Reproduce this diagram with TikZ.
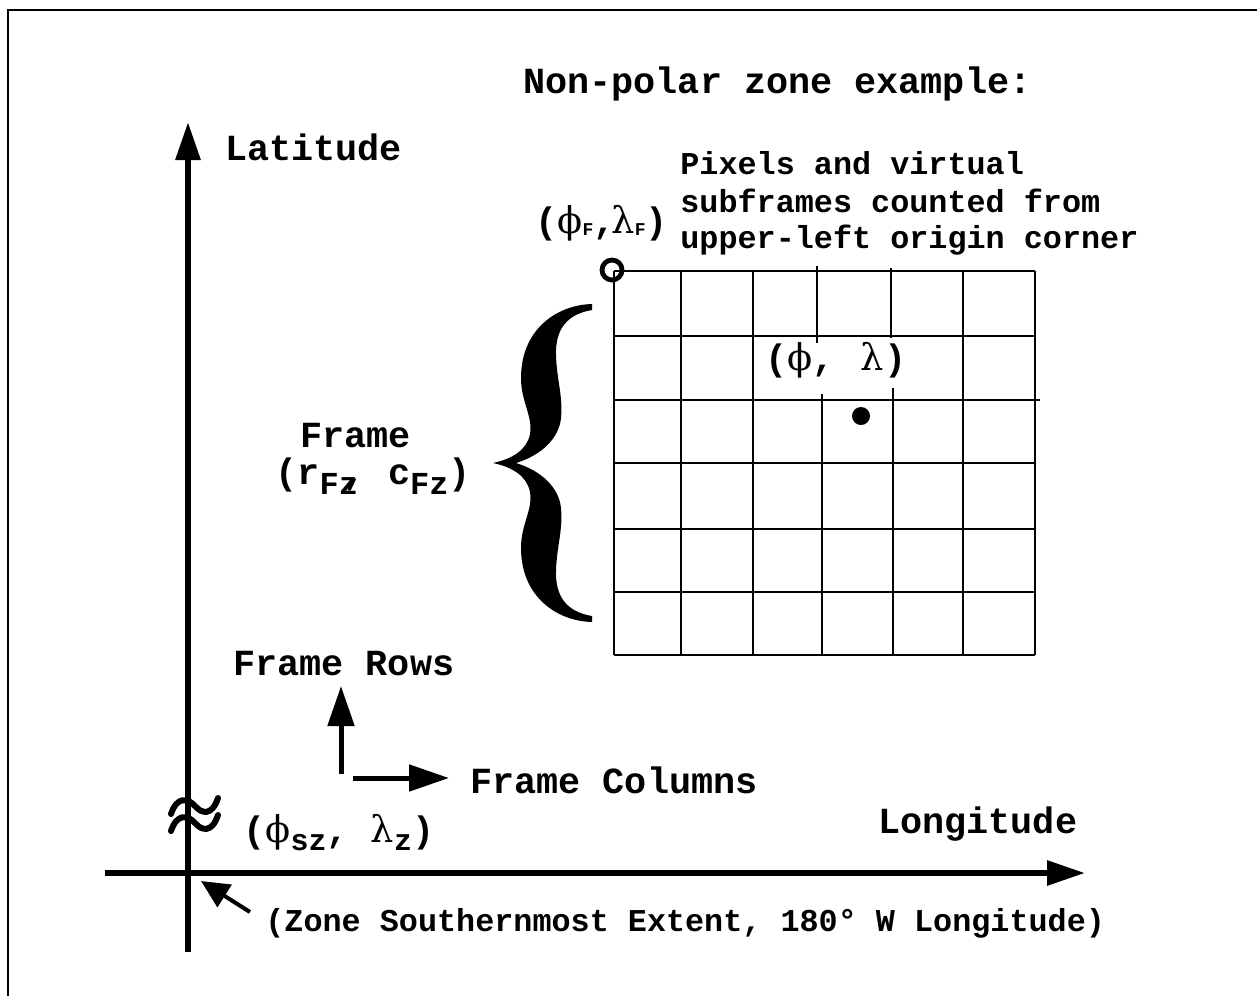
\documentclass[tikz,border=0pt]{standalone}
\usepackage{fontspec}
\setmainfont{Liberation Mono}
\newfontfamily\grk{DejaVu Serif}
\usetikzlibrary{arrows.meta}
\tikzset{lbl/.style={font=\fontsize{18.4}{22}\selectfont\bfseries,inner sep=0pt},
         note/.style={font=\fontsize{15.9}{18.5}\selectfont\bfseries,inner sep=0pt},
         axis/.style={-{Triangle[length=19pt,width=12pt]},line width=3pt},
         dir/.style={-{Triangle[length=20pt,width=13pt]},line width=2.5pt},
         gridln/.style={line width=1pt}}
\newcommand{\gphi}{{\grk\mdseries ϕ}}
\newcommand{\glam}{{\grk\mdseries λ}}
\newcommand{\lowsub}[3]{\raisebox{-#1}{\fontsize{#2}{#2}\selectfont #3}}

\begin{document}
\begin{tikzpicture}[x=0.5pt,y=-0.5pt]
  \useasboundingbox (0,0) rectangle (1257,996);
  \draw[line width=1.2pt] (8,996) -- (8,10) -- (1257,10);

  % axes
  \coordinate (ybot) at (188,952);
  \coordinate (ytop) at (188,122);
  \coordinate (xleft) at (105,873);
  \coordinate (xright) at (1085,873);
  \draw[axis] (ybot) -- (ytop);
  \draw[axis] (xleft) -- (xright);

  % break mark on the latitude axis
  \foreach \dy in {0,17}
    \draw[line width=3pt,line cap=round] (171,814+\dy) .. controls (177,796+\dy) and (188,798+\dy) .. (195,806+\dy)
      .. controls (202,814+\dy) and (212,816+\dy) .. (218,798+\dy);

  % frame grid
  \foreach \y in {271,336,463,529,592,655}
    \draw[gridln] (614,\y) -- (1035,\y);
  \draw[gridln] (614,400) -- (1040,400);
  \foreach \x in {614,681,753,963,1035}
    \draw[gridln] (\x,271) -- (\x,655);
  \draw[gridln] (817,266) -- (817,343) (822,394) -- (822,655);
  \draw[gridln] (891,268) -- (891,338) (893,388) -- (893,655);
  \draw[line width=2.4pt] (612,270) circle[radius=5pt];
  \fill (861,416) circle[radius=4.5pt];

  % brace
  \fill (592,304) .. controls (556,305) and (521,330) .. (521,378)
    .. controls (521,402) and (533,416) .. (530,434)
    .. controls (527,450) and (512,459) .. (493,463)
    .. controls (512,467) and (527,476) .. (530,492)
    .. controls (533,510) and (521,524) .. (521,548)
    .. controls (521,596) and (556,621) .. (592,622)
    -- (592,616)
    .. controls (568,612) and (555,598) .. (556,570)
    .. controls (557,545) and (563,530) .. (561,508)
    .. controls (559,488) and (542,471) .. (516,463)
    .. controls (542,455) and (559,438) .. (561,418)
    .. controls (563,396) and (557,381) .. (556,356)
    .. controls (555,328) and (568,314) .. (592,310) -- cycle;

  % labels
  \node[lbl,anchor=base west] (title) at (523,93) {Non-polar zone example:};
  \node[lbl,anchor=base west] (lat) at (225,160) {Latitude};
  \node[lbl,anchor=base west] (lon) at (878,833) {Longitude};
  \node[note,anchor=base west] (pix1) at (680,174) {Pixels and virtual};
  \node[note,anchor=base west] (pix2) at (680,212) {subframes counted from};
  \node[note,anchor=base west] (pix3) at (680,248) {upper-left origin corner};
  \node[lbl,anchor=base west] (corner) at (535,233)
    {(\gphi\lowsub{1pt}{9}{F},\kern-2pt\glam\lowsub{1pt}{9}{F})};
  \node[lbl,anchor=base west] (pixel) at (765,370) {(\gphi, \kern2pt\glam)};
  \node[lbl,anchor=base west] (frame) at (300,447) {Frame};
  \node[lbl,anchor=base west] (size) at (275,484)
    {(r\lowsub{5pt}{16}{Fz}\kern-7pt, c\lowsub{5pt}{16}{Fz})};
  \node[lbl,anchor=base west] (rows) at (233,675) {Frame Rows};
  \node[lbl,anchor=base west] (cols) at (470,793) {Frame Columns};
  \node[lbl,anchor=base west] (south) at (243,842)
    {(\gphi\lowsub{4pt}{15}{sz}, \glam\lowsub{4pt}{15}{z})};
  \node[note,anchor=base west] (zone) at (265,931)
    {(Zone Southernmost Extent, 180° W Longitude)};

  % frame directions
  \coordinate (rowfoot) at (341,774);
  \coordinate (rowtip) at (341,686);
  \coordinate (colfoot) at (353,778);
  \coordinate (coltip) at (449,778);
  \draw[dir] (rowfoot) -- (rowtip);
  \draw[dir] (colfoot) -- (coltip);

  % pointer to the zone origin
  \coordinate (ptail) at (250,912);
  \coordinate (phead) at (201,881);
  \draw[-{Triangle[length=14pt,width=13pt]},line width=2pt] (ptail) -- (phead);
\end{tikzpicture}
\end{document}
